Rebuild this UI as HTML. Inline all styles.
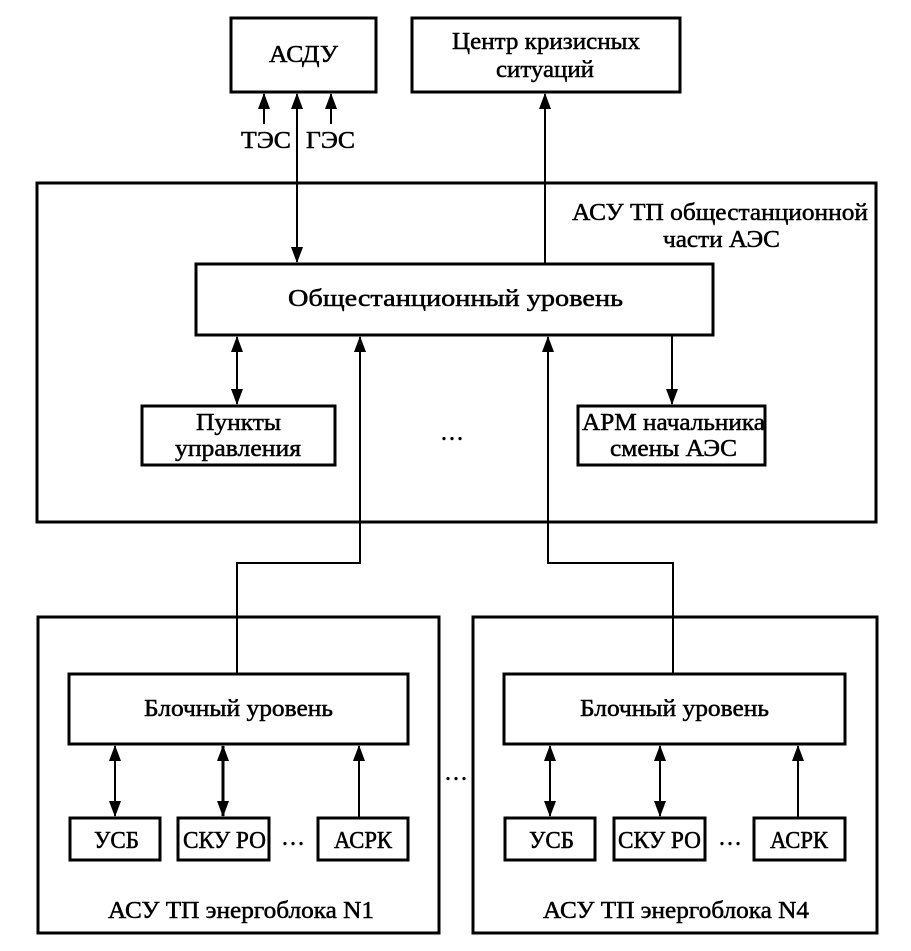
<!DOCTYPE html>
<html><head><meta charset="utf-8"><style>
html,body{margin:0;padding:0;background:#fff}
svg{display:block}
text{font-family:"Liberation Serif",serif;fill:#000;font-size:24px;stroke:#000;stroke-width:0.5}
</style></head><body>
<svg width="911" height="951" viewBox="0 0 911 951" xmlns="http://www.w3.org/2000/svg">
<defs>
<marker id="b" markerWidth="16" markerHeight="12" refX="15" refY="6" orient="auto" markerUnits="userSpaceOnUse" viewBox="0 0 16 12">
<path d="M0,0 L16,6 L0,12 Z" fill="#000"/></marker>
</defs>
<g fill="none" stroke="#000" stroke-width="3">
<rect x="231" y="18" width="145" height="74"/>
<rect x="412" y="18" width="268" height="74"/>
<rect x="37" y="183" width="839" height="339"/>
<rect x="196" y="264" width="517" height="71"/>
<rect x="142" y="406" width="193" height="59"/>
<rect x="578" y="406" width="187" height="59"/>
<rect x="38" y="617" width="401" height="316"/>
<rect x="473" y="617" width="404" height="316"/>
<rect x="69" y="674" width="339" height="70"/>
<rect x="504" y="674" width="341" height="70"/>
<rect x="70" y="818" width="90" height="42"/>
<rect x="178" y="818" width="91" height="42"/>
<rect x="318" y="818" width="90" height="42"/>
<rect x="505" y="818" width="90" height="42"/>
<rect x="614" y="818" width="91" height="42"/>
<rect x="754" y="818" width="91" height="42"/>
</g>
<g fill="none" stroke="#000" stroke-width="2">
<line x1="264" y1="124" x2="264" y2="94" marker-end="url(#b)"/>
<line x1="331" y1="124" x2="331" y2="94" marker-end="url(#b)"/>
<line x1="297" y1="180" x2="297" y2="94" marker-end="url(#b)"/>
<line x1="297" y1="180" x2="297" y2="262" marker-end="url(#b)"/>
<line x1="545" y1="264" x2="545" y2="94" marker-end="url(#b)"/>
<line x1="237" y1="370" x2="237" y2="337" marker-end="url(#b)"/>
<line x1="237" y1="370" x2="237" y2="404" marker-end="url(#b)"/>
<line x1="672" y1="336" x2="672" y2="404" marker-end="url(#b)"/>
<polyline points="237,673 237,563 360,563 360,337" marker-end="url(#b)"/>
<polyline points="673,673 673,563 548,563 548,337" marker-end="url(#b)"/>
<line x1="115" y1="780" x2="115" y2="746" marker-end="url(#b)"/>
<line x1="115" y1="780" x2="115" y2="816" marker-end="url(#b)"/>
<line x1="223" y1="780" x2="223" y2="746" marker-end="url(#b)" stroke-width="3"/>
<line x1="223" y1="780" x2="223" y2="816" marker-end="url(#b)" stroke-width="3"/>
<line x1="359" y1="818" x2="359" y2="746" marker-end="url(#b)"/>
<line x1="550" y1="780" x2="550" y2="746" marker-end="url(#b)"/>
<line x1="550" y1="780" x2="550" y2="816" marker-end="url(#b)"/>
<line x1="660" y1="780" x2="660" y2="746" marker-end="url(#b)"/>
<line x1="660" y1="780" x2="660" y2="816" marker-end="url(#b)"/>
<line x1="798" y1="818" x2="798" y2="746" marker-end="url(#b)"/>
</g>
<g lengthAdjust="spacingAndGlyphs">
<text x="269" y="62" textLength="69" lengthAdjust="spacingAndGlyphs">АСДУ</text>
<text x="452" y="49" textLength="188" lengthAdjust="spacingAndGlyphs">Центр кризисных</text>
<text x="496" y="77" textLength="98" lengthAdjust="spacingAndGlyphs">ситуаций</text>
<text x="241" y="148" textLength="50" lengthAdjust="spacingAndGlyphs">ТЭС</text>
<text x="306" y="148" textLength="49" lengthAdjust="spacingAndGlyphs">ГЭС</text>
<text x="572" y="220" textLength="296" lengthAdjust="spacingAndGlyphs">АСУ ТП общестанционной</text>
<text x="663" y="247" textLength="117" lengthAdjust="spacingAndGlyphs">части АЭС</text>
<text x="288" y="306" textLength="335" lengthAdjust="spacingAndGlyphs">Общестанционный  уровень</text>
<text x="196" y="430" textLength="85" lengthAdjust="spacingAndGlyphs">Пункты</text>
<text x="175" y="456" textLength="126" lengthAdjust="spacingAndGlyphs">управления</text>
<text x="582" y="430" textLength="183" lengthAdjust="spacingAndGlyphs">АРМ начальника</text>
<text x="610" y="456" textLength="127" lengthAdjust="spacingAndGlyphs">смены АЭС</text>
<text x="452" y="440" text-anchor="middle">…</text>
<text x="144" y="716" textLength="189" lengthAdjust="spacingAndGlyphs">Блочный уровень</text>
<text x="580" y="716" textLength="189" lengthAdjust="spacingAndGlyphs">Блочный уровень</text>
<text x="94" y="848" textLength="45" lengthAdjust="spacingAndGlyphs">УСБ</text>
<text x="183" y="848" textLength="83" lengthAdjust="spacingAndGlyphs">СКУ РО</text>
<text x="334" y="848" textLength="58" lengthAdjust="spacingAndGlyphs">АСРК</text>
<text x="529" y="848" textLength="45" lengthAdjust="spacingAndGlyphs">УСБ</text>
<text x="618" y="848" textLength="83" lengthAdjust="spacingAndGlyphs">СКУ РО</text>
<text x="770" y="848" textLength="58" lengthAdjust="spacingAndGlyphs">АСРК</text>
<text x="293" y="845" text-anchor="middle">…</text>
<text x="730" y="845" text-anchor="middle">…</text>
<text x="456" y="780" text-anchor="middle">…</text>
<text x="108" y="918" textLength="266" lengthAdjust="spacingAndGlyphs">АСУ ТП энергоблока N1</text>
<text x="543" y="918" textLength="266" lengthAdjust="spacingAndGlyphs">АСУ ТП энергоблока N4</text>
</g>
</svg>
</body></html>
